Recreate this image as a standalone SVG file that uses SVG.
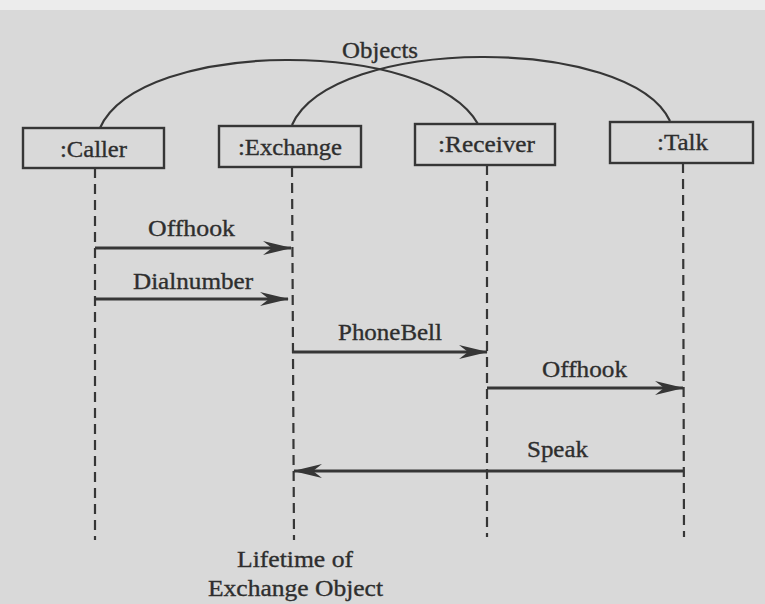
<svg xmlns="http://www.w3.org/2000/svg" width="765" height="604" viewBox="0 0 765 604">
  <style>
    .box { fill: none; stroke: #363636; stroke-width: 2.4; }
    .life { fill: none; stroke: #363636; stroke-width: 2.2; stroke-dasharray: 10 6; }
    .msg { fill: none; stroke: #363636; stroke-width: 2.8; marker-end: url(#head); }
    .arc { fill: none; stroke: #363636; stroke-width: 2.2; }
    text { font-family: "Liberation Serif", "Times New Roman", serif; font-size: 23.5px; fill: #2e2e2e; stroke: #2e2e2e; stroke-width: 0.35; }
  </style>
  <defs>
    <marker id="head" viewBox="-30 -8 32 16" refX="0" refY="0" markerWidth="32" markerHeight="16" markerUnits="userSpaceOnUse" orient="auto">
      <path d="M1,0 L-28,-7 L-19,0 L-28,7 Z" fill="#363636"/>
    </marker>
  </defs>

  <!-- paper -->
  <rect x="0" y="0" width="765" height="604" fill="#d9d9d9"/>
  <rect x="0" y="0" width="765" height="10" fill="#ececec"/>

  <!-- connectors: object arcs and messages -->
  <g id="connectors">
    <path class="arc" d="M100,128 C140,38 430,38 478,124"/>
    <path class="arc" d="M292,125 C332,35 630,35 670,121"/>
    <text x="342" y="58" textLength="76" lengthAdjust="spacingAndGlyphs">Objects</text>

    <line class="msg" x1="95" y1="248" x2="291" y2="248"/>
    <text x="148" y="236" textLength="87" lengthAdjust="spacingAndGlyphs">Offhook</text>

    <line class="msg" x1="95" y1="299" x2="288" y2="299"/>
    <text x="133" y="289" textLength="120" lengthAdjust="spacingAndGlyphs">Dialnumber</text>

    <line class="msg" x1="292" y1="352" x2="487" y2="352"/>
    <text x="338" y="340" textLength="104" lengthAdjust="spacingAndGlyphs">PhoneBell</text>

    <line class="msg" x1="487" y1="388" x2="683" y2="388"/>
    <text x="542" y="377" textLength="85" lengthAdjust="spacingAndGlyphs">Offhook</text>

    <line class="msg" x1="683" y1="471" x2="294" y2="471"/>
    <text x="527" y="457" textLength="61" lengthAdjust="spacingAndGlyphs">Speak</text>
  </g>

  <!-- objects with their lifelines -->
  <g id="caller">
    <rect class="box" x="23" y="128" width="141" height="40"/>
    <text x="60" y="157" textLength="67" lengthAdjust="spacingAndGlyphs">:Caller</text>
    <line class="life" x1="95" y1="168" x2="95" y2="540"/>
  </g>
  <g id="exchange">
    <rect class="box" x="219" y="126" width="142" height="41"/>
    <text x="238" y="155" textLength="104" lengthAdjust="spacingAndGlyphs">:Exchange</text>
    <line class="life" x1="292" y1="167" x2="294" y2="540"/>
  </g>
  <g id="receiver">
    <rect class="box" x="415" y="124" width="140" height="41"/>
    <text x="438" y="152" textLength="97" lengthAdjust="spacingAndGlyphs">:Receiver</text>
    <line class="life" x1="487" y1="165" x2="487" y2="537"/>
  </g>
  <g id="talk">
    <rect class="box" x="610" y="122" width="143" height="41"/>
    <text x="657" y="150" textLength="51" lengthAdjust="spacingAndGlyphs">:Talk</text>
    <line class="life" x1="683" y1="163" x2="684" y2="537"/>
  </g>

  <!-- lifetime note under the exchange lifeline -->
  <g id="lifetime-note">
    <text x="237" y="567" textLength="116" lengthAdjust="spacingAndGlyphs">Lifetime of</text>
    <text x="208" y="596" textLength="175" lengthAdjust="spacingAndGlyphs">Exchange Object</text>
  </g>
</svg>
